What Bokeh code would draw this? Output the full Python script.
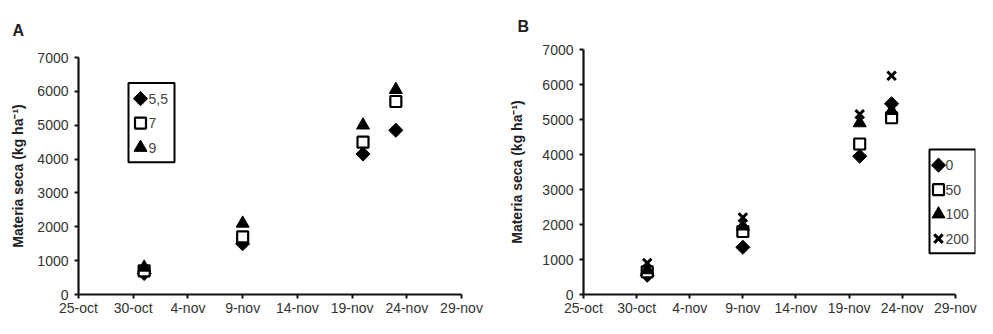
import pandas as pd
import numpy as np
from bokeh.plotting import figure
from bokeh.layouts import row
from bokeh.models import Range1d, FixedTicker, Title
from bokeh.core.properties import value
from bokeh.embed import file_html
from bokeh.resources import INLINE

# ---- data ----
start_date = "2005-10-25"
sample_dates = ["2005-10-31", "2005-11-09", "2005-11-20", "2005-11-23"]
tick_dates = ["2005-10-25", "2005-10-30", "2005-11-04", "2005-11-09",
              "2005-11-14", "2005-11-19", "2005-11-24", "2005-11-29"]
tick_labels = ["25-oct", "30-oct", "4-nov", "9-nov", "14-nov", "19-nov", "24-nov", "29-nov"]

# Panel A (pH)
a_names = ["5,5", "7", "9"]
a_55 = [620, 1500, 4150, 4850]
a_7 = [700, 1700, 4500, 5700]
a_9 = [800, 2100, 5000, 6050]

# Panel B (dose)
b_names = ["0", "50", "100", "200"]
b_0 = [550, 1350, 3950, 5450]
b_50 = [650, 1800, 4300, 5050]
b_100 = [700, 1950, 4900, 5250]
b_200 = [900, 2200, 5150, 6250]

y_ticks = [0, 1000, 2000, 3000, 4000, 5000, 6000, 7000]

t0 = pd.Timestamp(start_date)
xs = [(pd.Timestamp(d) - t0).days for d in sample_dates]
xt = [(pd.Timestamp(d) - t0).days for d in tick_dates]

FONT = "Liberation Sans"
H = 318

STYLES = {
    "diamond": dict(marker="square", angle=np.pi / 4, size=10, fill_color="black", line_color="black", line_width=1),
    "square": dict(marker="square", size=11, fill_color="white", line_color="black", line_width=2.2),
    "triangle": dict(marker="triangle", size=13, fill_color="black", line_color="black", line_width=1),
    "x": dict(marker="x", size=12, line_color="black", line_width=3),
}


def make_fig(width, left, right, top, bottom, x_end, letter, title_standoff, label_standoff):
    fw = width - left - right
    fh = H - top - bottom
    p = figure(width=width, height=H, output_backend="svg", toolbar_location=None,
               x_range=Range1d(xt[0], x_end), y_range=Range1d(0, 7000),
               min_border_left=left, min_border_right=right,
               min_border_top=top, min_border_bottom=bottom, frame_align=False)
    # pixel space of the frame, used for the legend box
    p.extra_x_ranges = {"px": Range1d(0, fw)}
    p.extra_y_ranges = {"px": Range1d(0, fh)}
    p.outline_line_color = None
    p.xgrid.visible = False
    p.ygrid.visible = False
    p.title = Title(text=letter, align="left", offset=-66, standoff=title_standoff,
                    text_font=FONT, text_font_size="16px", text_font_style="bold",
                    text_color="#222222")
    for ax in (p.xaxis[0], p.yaxis[0]):
        ax.axis_line_width = 2.2
        ax.axis_line_color = "#111111"
        ax.major_tick_line_width = 2
        ax.major_tick_line_color = "#111111"
        ax.major_tick_out = 4
        ax.major_tick_in = 0
        ax.minor_tick_line_color = None
        ax.major_label_text_font = FONT
        ax.major_label_text_font_size = "14px"
        ax.major_label_text_color = "#333333"
    p.xaxis.ticker = FixedTicker(ticks=xt)
    p.xaxis.bounds = (xt[0], xt[-1])
    p.xaxis.major_label_overrides = {t: l for t, l in zip(xt, tick_labels)}
    p.xaxis.major_label_standoff = 1
    p.yaxis.ticker = FixedTicker(ticks=y_ticks)
    p.yaxis.major_label_standoff = 6
    p.yaxis.axis_label = "Materia seca (kg ha\u207b\u00b9)"
    p.yaxis.axis_label_text_font = FONT
    p.yaxis.axis_label_text_font_size = "14px"
    p.yaxis.axis_label_text_font_style = "bold"
    p.yaxis.axis_label_text_color = "#222222"
    p.yaxis.axis_label_standoff = label_standoff
    return p


def add_series(p, series, names, styles, box_left, box_right, box_top, row_first, marker_x, text_x):
    for vals, st in zip(series, styles):
        p.scatter(x=xs, y=vals, **STYLES[st])
    n = len(names)
    rows_y = [row_first - 25 * i for i in range(n)]
    box_bottom = rows_y[-1] - 15
    p.quad(left=[box_left], right=[box_right], top=[box_top], bottom=[box_bottom],
           x_range_name="px", y_range_name="px", fill_color="white",
           line_color="black", line_width=2)
    for yy, name, st in zip(rows_y, names, styles):
        p.scatter(x=[marker_x], y=[yy], x_range_name="px", y_range_name="px", **STYLES[st])
    p.text(x=[text_x] * n, y=rows_y, text=names, x_range_name="px", y_range_name="px",
           text_font=value(FONT), text_font_size="14px", text_color="#444444",
           text_baseline="middle", text_align="left")


pA = make_fig(490, 78, 29, 57, 19, xt[-1], "A", 38, 8)
add_series(pA, [a_55, a_7, a_9], a_names, ["diamond", "square", "triangle"],
           box_left=50, box_right=96, box_top=216, row_first=200, marker_x=62, text_x=70)

pB = make_fig(487, 93, 2, 49, 19, 36.9, "B", 30, 14)
add_series(pB, [b_0, b_50, b_100, b_200], b_names, ["diamond", "square", "triangle", "x"],
           box_left=346, box_right=392, box_top=148, row_first=132, marker_x=355, text_x=362)

layout = row(pA, pB)
open("out.html", "w").write(file_html(layout, INLINE))
